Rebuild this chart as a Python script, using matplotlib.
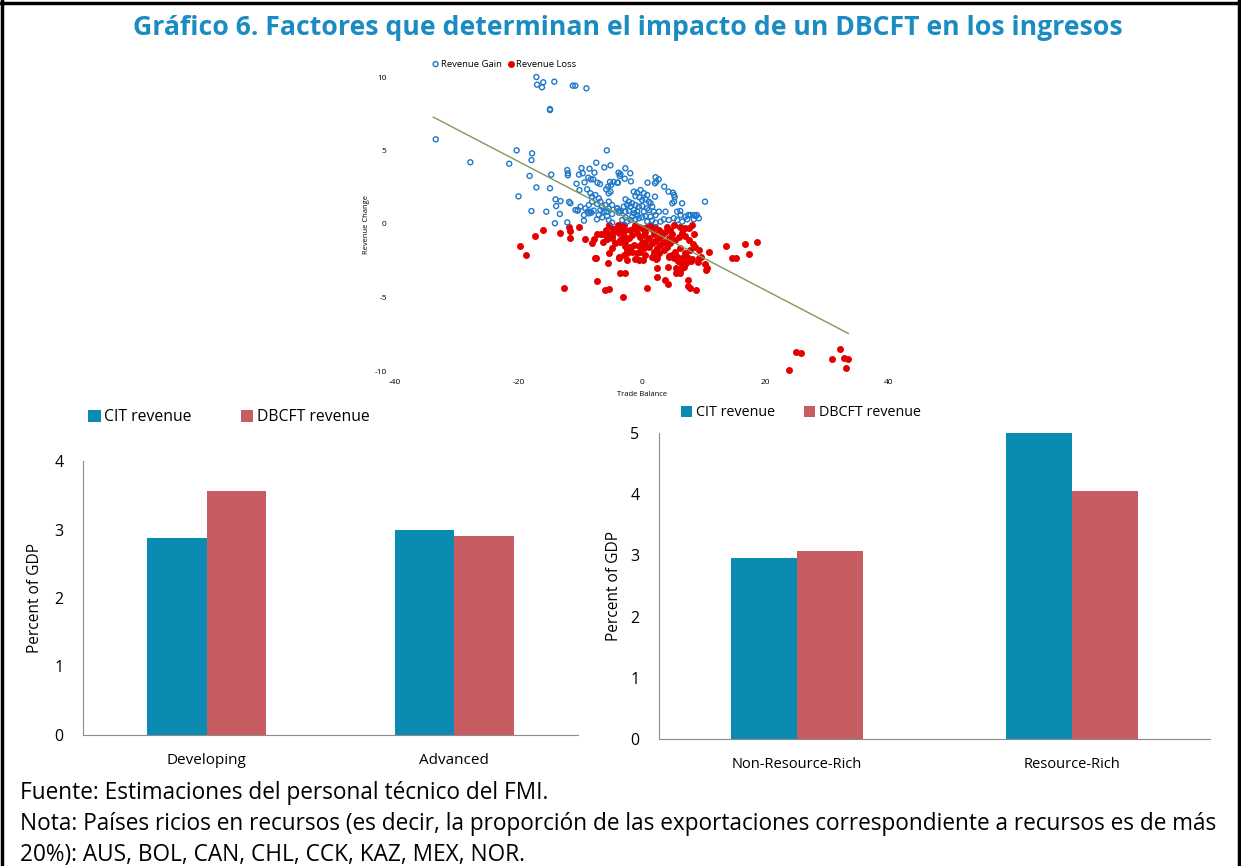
import numpy as np
import matplotlib
matplotlib.use("Agg")
import matplotlib.pyplot as plt
from matplotlib.lines import Line2D

plt.rcParams['font.family'] = ['Open Sans', 'DejaVu Sans']
plt.rcParams['axes.unicode_minus'] = False

W, H = 1241, 866

# ---- scatter data (trade balance vs revenue change) ----
gain = [
    (-17.1, 10.0), (-17.0, 9.48), (-16.2, 9.3), (-16.0, 9.64), (-14.2, 9.68), (-11.2, 9.41), (-10.8, 9.41),
    (-9.0, 9.23), (-14.9, 7.82), (-14.9, 7.75), (-33.4, 5.76), (-27.8, 4.2), (-20.3, 5.01), (-21.5, 4.1),
    (-17.8, 4.81), (-17.9, 4.35), (-18.2, 3.27), (-14.7, 3.36), (-17.1, 2.49), (-14.9, 2.43), (-5.7, 5.01),
    (-12.1, 3.67), (-12.0, 3.45), (-12.0, 3.31), (-10.2, 3.36), (-9.8, 3.81), (-9.6, 3.45), (-8.5, 3.76),
    (-7.4, 4.17), (-7.7, 3.49), (-7.9, 3.04), (-8.3, 3.04), (-8.7, 3.15), (-9.3, 2.83), (-10.6, 2.74),
    (-6.1, 3.85), (-5.1, 3.99), (-6.8, 2.72), (-7.2, 2.81), (-5.2, 2.86), (-4.6, 2.86), (-3.9, 2.81),
    (-5.0, 2.65), (-5.5, 2.54), (-5.8, 2.36), (-5.1, 2.2), (-5.4, 2.09), (-20.0, 1.88), (-17.9, 0.88),
    (-15.5, 0.84), (-14.0, 1.68), (-13.2, 1.56), (-13.9, 1.22), (-11.8, 1.5), (-11.6, 1.41), (-13.3, 0.68),
    (-14.1, 0.05), (-12.1, 0.11), (-10.4, 0.91), (-9.4, 0.61), (-9.4, 0.23), (-8.8, 0.84), (-8.2, 0.77),
    (-7.0, 0.61), (-7.3, 0.32), (-6.45, 0.45), (-5.64, 0.54), (-5.37, 0.27), (-5.75, 0.84),
    (-10.13, 2.31), (-8.89, 2.36), (-8.35, 2.09), (-8.08, 1.86), (-7.54, 1.97), (-7.0, 1.75), (-6.73, 1.52),
    (-8.08, 1.52), (-8.62, 1.29), (-7.27, 1.36), (-6.46, 1.18), (-5.92, 1.29), (-5.38, 1.06), (-5.38, 1.52),
    (-4.84, 1.29), (-4.03, 1.06), (-3.76, 0.91), (-6.19, 0.84), (-6.73, 0.95), (-7.81, 0.91), (-8.35, 0.84),
    (-9.16, 1.06), (-9.97, 1.18), (-10.4, 0.95), (-8.62, 0.72), (-10.78, 0.95),
    (-2.7, 3.79), (-3.8, 3.49), (-3.5, 3.4), (-3.6, 3.27), (-1.9, 3.45), (-2.8, 3.08), (-1.8, 2.9),
    (-4.0, 2.81), (0.9, 2.81), (2.2, 3.18), (2.7, 3.04), (2.3, 2.88), (2.1, 2.77), (3.6, 2.54), (4.3, 2.2),
    (5.0, 2.13), (5.2, 1.97), (5.3, 1.82), (2.1, 1.86), (4.9, 1.41), (5.2, 1.52), (6.5, 1.41), (10.2, 1.52),
    (3.8, 0.84), (5.7, 0.84), (6.2, 0.88), (7.5, 0.61), (8.4, 0.61), (8.9, 0.61),
    (-1.33, 2.2), (-0.78, 2.13), (-0.24, 2.31), (0.3, 2.09), (0.84, 1.97), (-1.06, 1.9), (-0.4, 1.81),
    (0.03, 1.63), (0.57, 1.68), (1.11, 1.52), (1.38, 1.41), (-2.67, 1.68), (-2.13, 1.52), (-1.6, 1.41),
    (-2.4, 1.29), (-2.94, 1.18), (-1.86, 1.18), (-1.06, 1.29), (-0.51, 1.18), (0.03, 1.22), (-1.33, 0.95),
    (-0.78, 0.84), (-2.13, 0.9), (-2.67, 0.84), (0.84, 1.07), (1.11, 0.95), (1.65, 1.18), (1.92, 0.84),
    (0.3, 0.84), (-3.48, 0.84), (-4.0, 1.07),
    (-4.83, 0.68), (-3.75, 0.77), (-1.32, 0.73), (-0.78, 0.61), (-1.59, 0.5), (-2.67, 0.45), (-3.21, 0.27),
    (-2.4, 0.16), (-1.86, 0.27), (-1.05, 0.32), (-0.51, 0.39), (0.03, 0.45), (0.57, 0.54), (1.38, 0.5),
    (2.19, 0.61), (2.73, 0.84), (6.24, 0.61), (7.05, 0.5), (7.86, 0.61), (8.67, 0.54), (8.4, 0.32),
    (7.32, 0.32), (9.21, 0.39), (0.84, 0.16), (1.65, 0.23), (2.19, 0.09), (3.0, 0.16), (3.54, 0.32),
    (4.35, 0.27), (5.16, 0.39), (5.7, 0.27), (6.51, 0.16), (-4.83, 0.09),
]
loss = [
    (-19.8, -1.52), (-18.8, -2.11), (-17.3, -0.8), (-16.1, -0.43), (-13.2, -0.61), (-11.9, -0.22),
    (-11.6, -0.48), (-11.7, -0.93), (-10.2, -0.23), (-9.3, -1.04), (-8.1, -1.31), (-7.5, -2.33),
    (-7.7, -1.04), (-7.3, -0.68), (-6.7, -0.68), (-6.2, -0.68), (-5.9, -0.41), (-5.4, -0.7), (-5.6, -1.04),
    (-6.3, -1.22), (-5.5, -2.63), (-7.3, -3.9), (-12.7, -4.38), (-6.0, -4.51), (-5.4, -4.45), (-3.0, -4.95),
    (-3.6, -3.31), (-2.8, -3.31), (-3.7, -2.24), (-4.9, -0.82), (-4.3, -0.46), (-3.9, -0.07), (-4.7, -0.36),
    (-3.5, -1.22), (-2.8, -1.48), (-2.4, -1.99), (-2.4, -2.45), (-7.6, -2.34),
    (-5.37, -0.07), (-5.9, -0.75), (-5.1, -0.75), (-4.83, -0.98), (-4.03, -0.3), (-3.49, -0.07),
    (-2.95, -0.07), (-3.76, -0.64), (-3.22, -0.45), (-2.68, -0.41), (-2.95, -0.82), (-3.49, -1.09),
    (-2.68, -1.2), (-2.14, -0.98), (-1.6, -0.75), (-1.87, -0.41), (-1.33, -0.3), (-1.06, -0.07),
    (-0.52, -0.18), (0.02, -0.3), (-0.79, -0.64), (-0.25, -0.86), (0.29, -0.75), (0.56, -0.52),
    (0.83, -0.18), (1.37, -0.07), (1.64, -0.36), (2.18, -0.18), (2.72, -0.41), (1.91, -0.68), (1.1, -0.98),
    (0.56, -1.2), (0.02, -1.32), (-0.52, -1.5), (-1.33, -1.43), (-1.87, -1.54), (-2.41, -1.77),
    (-1.6, -1.88), (-0.79, -1.95), (-0.25, -1.88), (0.29, -1.66), (1.1, -1.54), (1.64, -1.32),
    (2.18, -1.14), (2.72, -0.98), (3.26, -0.75), (3.8, -0.52), (4.07, -0.18), (4.61, -0.41), (4.88, -0.68),
    (4.34, -0.98), (3.53, -1.2), (2.99, -1.43), (2.45, -1.66), (1.91, -1.88), (2.72, -2.0), (3.53, -1.77),
    (4.07, -1.54), (4.61, -1.32), (5.42, -1.09), (5.96, -0.86), (6.5, -0.64), (7.04, -0.82), (7.58, -1.09),
    (8.23, -1.36), (8.66, -1.59), (7.85, -1.77), (7.04, -2.0), (6.23, -1.66), (5.42, -1.88), (4.88, -2.11),
    (4.34, -2.22), (5.69, -2.22), (6.5, -2.34), (7.31, -2.22), (-4.84, -1.66), (-4.3, -1.32), (-5.38, -2.0),
    (-2.95, -2.11), (1.64, -2.22), (0.56, -2.11), (9.2, -1.77), (8.39, -0.68), (7.04, -0.3), (6.23, -0.18),
    (5.15, -0.07), (7.58, -0.3), (8.12, -0.07),
    (-3.75, -2.29), (-1.16, -2.38), (-0.51, -2.43), (0.14, -2.47), (2.08, -2.22), (2.46, -2.34),
    (2.19, -2.38), (4.35, -2.18), (5.16, -2.29), (5.7, -2.22), (6.24, -2.56), (6.51, -2.79), (6.78, -2.9),
    (7.05, -2.68), (7.32, -2.45), (6.78, -2.34), (7.86, -2.52), (8.13, -2.38), (9.1, -2.56), (9.21, -2.29),
    (5.86, -2.52), (5.54, -2.97), (6.4, -3.02), (10.2, -2.72), (10.6, -2.97), (10.3, -3.13), (2.46, -3.02),
    (4.24, -2.9), (5.43, -3.36), (6.2, -3.35), (2.35, -3.61), (3.7, -3.83), (4.24, -4.1), (0.73, -4.33),
    (7.48, -3.81), (7.37, -4.22), (7.7, -4.33), (8.67, -4.47),
    (10.9, -1.93), (13.6, -1.52), (14.5, -2.31), (15.3, -2.31), (16.7, -1.34), (17.3, -2.06), (18.7, -1.25),
    (9.5, -2.27), (24.9, -8.71), (25.7, -8.78), (23.8, -9.95), (32.1, -8.52), (30.7, -9.18), (32.7, -9.14),
    (33.4, -9.18), (33.0, -9.77),
]
gain_x = [p[0] for p in gain]
gain_y = [p[1] for p in gain]
loss_x = [p[0] for p in loss]
loss_y = [p[1] for p in loss]
trend_coef = [-0.219, -0.13]   # slope, intercept

# ---- bar data ----
income_groups = ["Developing", "Advanced"]
income_cit = [2.88, 2.99]
income_dbcft = [3.56, 2.90]

resource_groups = ["Non-Resource-Rich", "Resource-Rich"]
resource_cit = [2.96, 5.0]
resource_dbcft = [3.07, 4.05]

CIT_COLOR = "#0b8bb1"
DBCFT_COLOR = "#c75c62"
TITLE_COLOR = "#1b8cc2"


def rect(l, t, r, b):
    return [l / W, 1 - b / H, (r - l) / W, (b - t) / H]


fig = plt.figure(figsize=(W / 100, H / 100), dpi=100)

# frame around the figure
for xs, ys in [([0, W], [H - 3, H - 3]), ([2, 2], [0, H]), ([W - 2, W - 2], [0, H])]:
    fig.add_artist(Line2D([x / W for x in xs], [y / H for y in ys], color="black", lw=2.5))

fig.text(628 / W, 1 - 28 / H, "Gráfico 6. Factores que determinan el impacto de un DBCFT en los ingresos",
         ha="center", va="center", fontsize=19.2, fontweight="bold", color=TITLE_COLOR)

# ---- scatter ----
ax = fig.add_axes(rect(395, 77, 889, 371))
ax.scatter(gain_x, gain_y, s=13, facecolors="none", edgecolors="#1f78c8", linewidths=1.0,
           label="Revenue Gain", clip_on=False, zorder=3)
ax.scatter(loss_x, loss_y, s=16, color="#e50000", label="Revenue Loss", clip_on=False, zorder=2)
xs = np.array([min(gain_x + loss_x) - 0.4, max(gain_x + loss_x)])
ax.plot(xs, np.polyval(trend_coef, xs), color="#7d9a5b", lw=1.0, zorder=4)
ax.set_xlim(-40, 40)
ax.set_ylim(-10, 10)
ax.set_xticks([-40, -20, 0, 20, 40])
ax.set_yticks([-10, -5, 0, 5, 10])
ax.tick_params(length=0, labelsize=6, pad=6)
for s in ax.spines.values():
    s.set_visible(False)
ax.set_xlabel("Trade Balance", fontsize=5.5, labelpad=3)
ax.set_ylabel("Revenue Change", fontsize=5.5, labelpad=3)
ax.legend(loc="center", bbox_to_anchor=(0.22, 1.044), ncol=2, frameon=False, fontsize=6.8,
          handletextpad=0.05, columnspacing=0.5, handlelength=1.0, borderpad=0)


def bar_panel(box, groups, cit, dbcft, ymax, legend_xy, ylabelpad, xfont, legfont, colspace):
    a = fig.add_axes(rect(*box))
    x = np.arange(len(groups))
    a.bar(x - 0.12, cit, width=0.24, color=CIT_COLOR, label="CIT revenue")
    a.bar(x + 0.12, dbcft, width=0.24, color=DBCFT_COLOR, label="DBCFT revenue")
    a.set_xlim(-0.5, len(groups) - 0.5)
    a.set_ylim(0, ymax)
    a.set_yticks(range(0, ymax + 1))
    a.set_xticks(x)
    a.set_xticklabels(groups, fontsize=xfont)
    a.tick_params(axis="y", labelsize=11.5, length=0, pad=14)
    a.tick_params(axis="x", length=0, pad=13)
    for side in ["top", "right"]:
        a.spines[side].set_visible(False)
    for side in ["left", "bottom"]:
        a.spines[side].set_color("#8c8c8c")
        a.spines[side].set_linewidth(0.8)
    a.set_ylabel("Percent of GDP", fontsize=11.2, labelpad=ylabelpad)
    fig.legend(*a.get_legend_handles_labels(), loc="center left",
               bbox_to_anchor=(legend_xy[0] / W, 1 - legend_xy[1] / H), ncol=2, frameon=False,
               fontsize=legfont, handlelength=0.8, handleheight=0.8, handletextpad=0.25,
               columnspacing=colspace, borderpad=0, borderaxespad=0)
    return a


bar_panel((83, 461, 578, 735), income_groups, income_cit, income_dbcft, 4, (88, 417), 8, 11, 11.3, 3.1)
bar_panel((659, 433, 1210, 739), resource_groups, resource_cit, resource_dbcft, 5, (681, 413), 6,
          10.5, 10.3, 2.0)

notes = [
    "Fuente: Estimaciones del personal técnico del FMI.",
    "Nota: Países ricios en recursos (es decir, la proporción de las exportaciones correspondiente a recursos es de más",
    "20%): AUS, BOL, CAN, CHL, CCK, KAZ, MEX, NOR.",
]
for i, line in enumerate(notes):
    fig.text(20 / W, 1 - (793 + 31 * i) / H, line, ha="left", va="center", fontsize=16.3)

fig.savefig("out.png", dpi=100)
